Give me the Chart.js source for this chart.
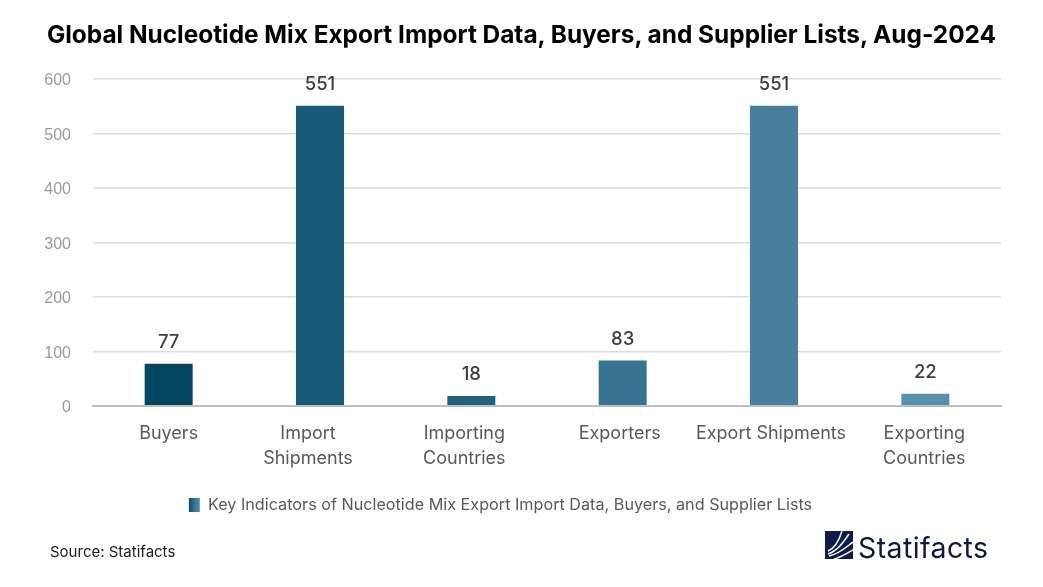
<!DOCTYPE html>
<html lang="en">
<head>
<meta charset="UTF-8" />
<title>Nucleotide Mix Export Import Data</title>
<style>
  html, body { margin: 0; padding: 0; background: #fff; overflow: hidden; }
  #wrap { position: relative; width: 1043px; height: 587px; }
  #chartTitle { position: absolute; left: 0; width: 1043px; top: 19px; text-align: center; font: bold 24.4px Inter, sans-serif; color: #000; white-space: nowrap; }
  #source { position: absolute; left: 50px; top: 542px; font: 15px Inter, sans-serif; color: #1c1c1c; }
  #logo { position: absolute; left: 825px; top: 531px; }
  #logoText { position: absolute; left: 858px; top: 530px; font: 28.5px Inter, sans-serif; color: #0b1a3d; letter-spacing: 0.4px; }
</style>
</head>
<body>
<div id="wrap">
  <canvas id="chart" width="1043" height="587"></canvas>
  <div id="chartTitle">Global Nucleotide Mix Export Import Data, Buyers, and Supplier Lists, Aug-2024</div>
  <div id="source">Source: Statifacts</div>
  <svg id="logo" width="28" height="28" viewBox="0 0 28 28">
    <rect width="28" height="28" fill="#0c1d4a"/>
    <path d="M3 20 C10 17 14 10 17 0 M3 23 C12 20 18 12 24 3 M4 25 C14 23 20 17 28 11 M9 28 C17 26 22 22 28 19" stroke="#fff" stroke-width="1.5" fill="none"/>
  </svg>
  <div id="logoText">Statifacts</div>
</div>
<script src="https://cdn.jsdelivr.net/npm/chart.js"></script>
<script>
  const categories = [["Buyers"], ["Import", "Shipments"], ["Importing", "Countries"], ["Exporters"], ["Export Shipments"], ["Exporting", "Countries"]];
  const values = [77, 551, 18, 83, 551, 22];
  const barColors = ["#03465f", "#155a76", "#1f627f", "#367592", "#477f9d", "#5792ad"];
  const yTicks = [0, 100, 200, 300, 400, 500, 600];
  const seriesName = "Key Indicators of Nucleotide Mix Export Import Data, Buyers, and Supplier Lists";
  // the source picture sets its category labels a little left of the bars
  const labelNudge = [0, -12, -7, -3, -3, -1];

  const ctx = document.getElementById("chart").getContext("2d");
  const swatch = ctx.createLinearGradient(188, 0, 200, 0);
  swatch.addColorStop(0, "#0a4a66");
  swatch.addColorStop(1, "#5792ad");

  const nudgeLabels = {
    id: "nudgeLabels",
    beforeDraw(chart) {
      chart.scales.x.getLabelItems().forEach((item, i) => {
        if (!item.nudged) {
          item.options.translation[0] += labelNudge[i];
          item.nudged = true;
        }
      });
      // y tick labels sit slightly under their grid lines
      chart.scales.y.getLabelItems().forEach(item => {
        if (!item.nudged) {
          item.options.translation[1] += 2;
          item.nudged = true;
        }
      });
    }
  };

  // value labels above the bars
  const valueLabels = {
    id: "valueLabels",
    afterDatasetsDraw(chart) {
      const c = chart.ctx;
      c.save();
      c.font = "500 18.5px Inter, sans-serif";
      c.fillStyle = "#3f3f3f";
      c.textAlign = "center";
      c.textBaseline = "bottom";
      chart.getDatasetMeta(0).data.forEach((bar, i) => {
        c.fillText(values[i], bar.x, bar.y - 12);
      });
      c.restore();
    }
  };

  new Chart(ctx, {
    type: "bar",
    data: {
      labels: categories,
      datasets: [{
        label: seriesName,
        data: values,
        backgroundColor: barColors,
        categoryPercentage: 1,
        barPercentage: 0.317
      }]
    },
    options: {
      responsive: false,
      animation: false,
      layout: { padding: { left: 0, right: 42, top: 79, bottom: 64 } },
      scales: {
        x: {
          grid: { display: false },
          border: { color: "#bdbdbd", width: 2 },
          ticks: { color: "#595959", font: { family: "Inter", size: 18, lineHeight: 1.4 }, padding: 7, maxRotation: 0, autoSkip: false },
          afterFit(scale) { scale.height = 87; }
        },
        y: {
          min: 0,
          max: 600,
          afterBuildTicks(scale) { scale.ticks = yTicks.map(v => ({ value: v })); },
          grid: { color: "#dcdcdc", lineWidth: 1.5, drawTicks: false },
          border: { display: false },
          ticks: { color: "#9a9a9a", font: { family: "Liberation Sans", size: 16 }, padding: 22 },
          afterFit(scale) { scale.width = 93; }
        }
      },
      plugins: {
        title: { display: false },
        legend: {
          position: "bottom",
          labels: {
            color: "#595959",
            font: { family: "Inter", size: 16.2 },
            boxWidth: 11,
            boxHeight: 14,
            padding: 4,
            generateLabels: () => [{ text: seriesName, fillStyle: swatch, strokeStyle: swatch, lineWidth: 0, fontColor: "#595959" }]
          }
        },
        tooltip: { enabled: false }
      }
    },
    plugins: [nudgeLabels, valueLabels]
  });
</script>
</body>
</html>
